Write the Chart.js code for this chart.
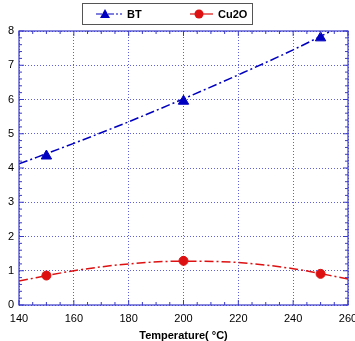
<!DOCTYPE html>
<html>
<head>
<meta charset="utf-8">
<script src="https://cdn.jsdelivr.net/npm/chart.js@4"></script>
<style>
  html, body { margin: 0; padding: 0; background: #fff; }
  #wrap { width: 355px; height: 341px; }
</style>
</head>
<body>
<div id="wrap"><canvas id="myChart"></canvas></div>
<script>
// measured points
var temps = [150, 200, 250];
var btValues = [4.35, 5.95, 7.8];
var cu2oValues = [0.86, 1.29, 0.91];

// fitted curves
var fitTemps = [140, 160, 180, 200, 220, 240, 260];
var btFit = [4.12, 4.72, 5.35, 6.02, 6.72, 7.45, 8.25];
var cu2oFit = [0.7, 1.0, 1.2, 1.28, 1.24, 1.06, 0.76];

var xTicks = [140, 160, 180, 200, 220, 240, 260];
var yTicks = [0, 1, 2, 3, 4, 5, 6, 7, 8];

var BLUE = '#0000c0';
var RED = '#dd1111';
var AXIS = '#3a3ac8';

function pts(xs, ys) {
  return xs.map(function (x, i) { return { x: x, y: ys[i] }; });
}

// inward ticks on all four sides + frame
var frameTicks = {
  id: 'frameTicks',
  afterDraw: function (chart) {
    var c = chart.ctx, a = chart.chartArea;
    var xs = chart.scales.x, ys = chart.scales.y;
    c.save();
    c.strokeStyle = AXIS;
    c.lineWidth = 1.2;
    c.setLineDash([]);
    c.strokeRect(a.left, a.top, a.right - a.left, a.bottom - a.top);
    c.lineWidth = 1;
    c.beginPath();
    for (var v = 140; v <= 260; v += 5) {
      var px = xs.getPixelForValue(v);
      var len = v % 20 === 0 ? 5 : 3;
      c.moveTo(px, a.bottom); c.lineTo(px, a.bottom - len);
      c.moveTo(px, a.top); c.lineTo(px, a.top + len);
    }
    for (var k = 0; k <= 40; k++) {
      var val = k * 0.2;
      var py = ys.getPixelForValue(val);
      var l2 = k % 5 === 0 ? 5 : 3;
      c.moveTo(a.left, py); c.lineTo(a.left + l2, py);
      c.moveTo(a.right, py); c.lineTo(a.right - l2, py);
    }
    c.stroke();
    c.restore();
  }
};

// legend box like the original
var legendBox = {
  id: 'legendBox',
  afterDraw: function (chart) {
    var c = chart.ctx;
    c.save();
    c.fillStyle = '#fff';
    c.fillRect(82, 3, 170, 21);
    c.strokeStyle = '#555';
    c.lineWidth = 1;
    c.strokeRect(82.5, 3.5, 170, 21);
    var items = [
      { label: 'BT', color: BLUE, x0: 96, x1: 122, mx: 105, shape: 'triangle', dash: [6, 2, 2, 2], tx: 127 },
      { label: 'Cu2O', color: RED, x0: 190, x1: 213, mx: 199, shape: 'circle', dash: [], tx: 218 }
    ];
    var y = 14;
    items.forEach(function (it) {
      c.strokeStyle = it.color;
      c.lineWidth = 1.2;
      c.setLineDash(it.dash);
      c.beginPath(); c.moveTo(it.x0, y); c.lineTo(it.x1, y); c.stroke();
      c.setLineDash([]);
      c.fillStyle = it.color;
      c.beginPath();
      if (it.shape === 'triangle') {
        c.moveTo(it.mx, y - 5); c.lineTo(it.mx + 5, y + 4); c.lineTo(it.mx - 5, y + 4); c.closePath();
      } else {
        c.arc(it.mx, y, 4.5, 0, Math.PI * 2);
      }
      c.fill();
      c.fillStyle = '#000';
      c.font = 'bold 11px "Liberation Sans", Arial, sans-serif';
      c.textBaseline = 'middle';
      c.fillText(it.label, it.tx, y + 0.5);
    });
    c.restore();
  }
};

var ctx = document.getElementById('myChart');
var myChart = new Chart(ctx, {
  type: 'line',
  data: {
    datasets: [{
      label: 'BT fit',
      data: pts(fitTemps, btFit),
      borderColor: BLUE,
      borderWidth: 1.5,
      borderDash: [9, 3, 2, 3],
      pointRadius: 0,
      cubicInterpolationMode: 'monotone',
      fill: false
    }, {
      label: 'Cu2O fit',
      data: pts(fitTemps, cu2oFit),
      borderColor: RED,
      borderWidth: 1.5,
      borderDash: [9, 3, 2, 3],
      pointRadius: 0,
      cubicInterpolationMode: 'monotone',
      fill: false
    }, {
      label: 'BT',
      data: pts(temps, btValues),
      showLine: false,
      pointStyle: 'triangle',
      pointRadius: 6,
      backgroundColor: BLUE,
      borderColor: BLUE
    }, {
      label: 'Cu2O',
      data: pts(temps, cu2oValues),
      showLine: false,
      pointStyle: 'circle',
      pointRadius: 4.5,
      backgroundColor: RED,
      borderColor: RED
    }]
  },
  options: {
    responsive: true,
    maintainAspectRatio: false,
    animation: false,
    layout: { padding: { left: 0, top: 31, right: 6, bottom: 0 } },
    scales: {
      x: {
        type: 'linear',
        min: 140,
        max: 260,
        afterBuildTicks: function (s) { s.ticks = xTicks.map(function (v) { return { value: v }; }); },
        afterFit: function (s) { s.height = 36; s.paddingLeft = 0; s.paddingRight = 0; },
        ticks: {
          color: '#000',
          padding: 7,
          maxRotation: 0,
          font: { family: '"Liberation Sans", Arial, sans-serif', size: 11 }
        },
        grid: { color: '#6060d8', lineWidth: 1, drawTicks: false },
        border: { display: false, dash: [1, 2] },
        title: {
          display: true,
          text: 'Temperature( °C)',
          color: '#000',
          padding: { top: 0, bottom: -2 },
          font: { family: '"Liberation Sans", Arial, sans-serif', size: 11, weight: 'bold' }
        }
      },
      y: {
        min: 0,
        max: 8,
        afterBuildTicks: function (s) { s.ticks = yTicks.map(function (v) { return { value: v }; }); },
        afterFit: function (s) { s.width = 19; },
        ticks: {
          color: '#000',
          padding: 5,
          font: { family: '"Liberation Sans", Arial, sans-serif', size: 11 }
        },
        grid: { color: '#6060d8', lineWidth: 1, drawTicks: false },
        border: { display: false, dash: [1, 2] }
      }
    },
    plugins: {
      legend: { display: false },
      tooltip: { enabled: false }
    }
  },
  plugins: [frameTicks, legendBox]
});
</script>
</body>
</html>
